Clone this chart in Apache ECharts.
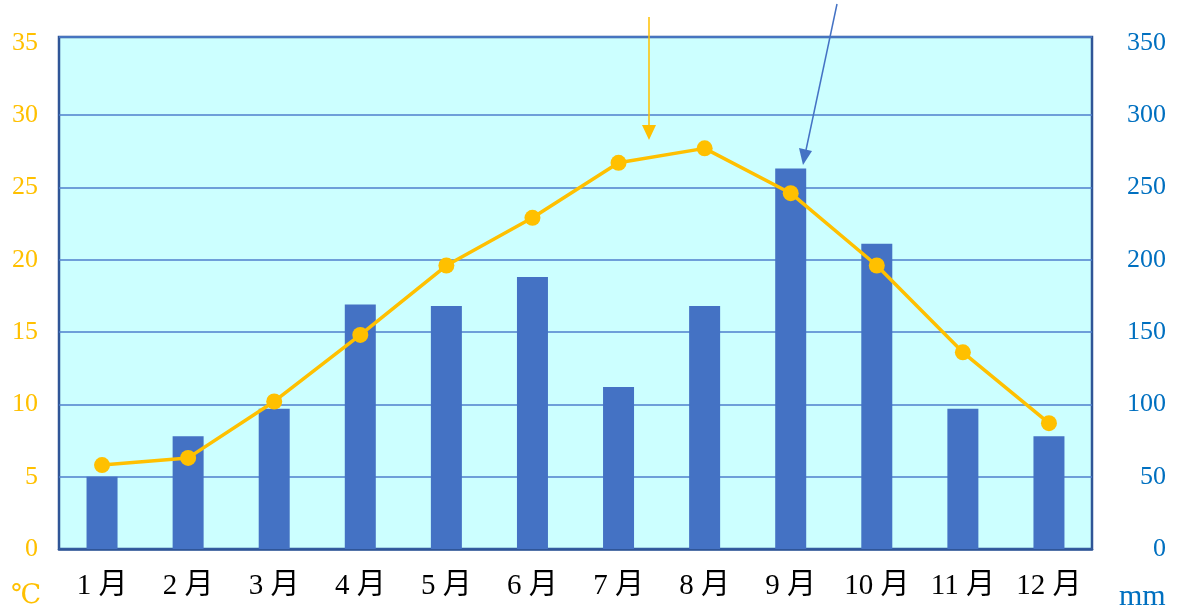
<!DOCTYPE html>
<html>
<head>
<meta charset="utf-8">
<script src="https://cdn.jsdelivr.net/npm/echarts@6/dist/echarts.min.js"></script>
<style>
html,body{margin:0;padding:0;background:#fff;}
#c{width:1178px;height:611px;}
</style>
</head>
<body>
<div id="c"></div>
<script>
const categories = ['1 月','2 月','3 月','4 月','5 月','6 月','7 月','8 月','9 月','10 月','11 月','12 月'];
const precipitation = [50, 78, 97, 169, 168, 188, 112, 168, 263, 211, 97, 78];
const temperature = [5.8, 6.3, 10.2, 14.8, 19.6, 22.9, 26.7, 27.7, 24.6, 19.6, 13.6, 8.7];
const tempTicks = [0, 5, 10, 15, 20, 25, 30, 35];
const rainTicks = [0, 50, 100, 150, 200, 250, 300, 350];

const serif = '"Liberation Serif", "DejaVu Serif", "Noto Sans CJK JP", serif';
const chart = echarts.init(document.getElementById('c'));
const gridL = 59, gridR = 86, gridT = 37, gridB = 62;
const gl = '#4F7FCC';

chart.setOption({
  animation: false,
  grid: {left: gridL, right: gridR, top: gridT, bottom: gridB, show: true,
         backgroundColor: '#CCFFFF', borderColor: '#2F5597', borderWidth: 2.5, z: 0},
  xAxis: {
    type: 'category', data: categories,
    axisLine: {lineStyle: {color: '#2F5597', width: 2.5}},
    axisTick: {inside: true, length: 10, lineStyle: {color: '#5B8BD0', width: 1.2}},
    axisLabel: {color: '#000', fontFamily: serif, fontSize: 29, margin: 23}
  },
  yAxis: [
    {type: 'value', min: 0, max: 35.4, interval: 5,
     axisLine: {show: false}, axisTick: {show: false},
     splitLine: {lineStyle: {color: [gl, gl, gl, gl, gl, gl, gl, 'rgba(0,0,0,0)'], width: 1.5}},
     axisLabel: {color: '#FFC000', fontFamily: serif, fontSize: 26, margin: 21,
                 formatter: v => tempTicks.includes(v) ? String(v) : ''}},
    {type: 'value', min: 0, max: 354, interval: 50,
     axisLine: {show: false}, axisTick: {show: false}, splitLine: {show: false},
     axisLabel: {color: '#0070C0', fontFamily: serif, fontSize: 26, margin: 74, align: 'right',
                 formatter: v => rainTicks.includes(v) ? String(v) : ''}}
  ],
  series: [
    {type: 'bar', yAxisIndex: 1, data: precipitation, barWidth: 31,
     itemStyle: {color: '#4472C4'}, z: 2},
    {type: 'line', yAxisIndex: 0, data: temperature, symbol: 'circle', symbolSize: 16,
     lineStyle: {color: '#FFC000', width: 3.5}, itemStyle: {color: '#FFC000'}, z: 3}
  ],
  graphic: [
    {type: 'text', left: 11, top: 582, style: {text: '℃', fill: '#FFC000', font: '27px ' + serif}},
    {type: 'text', left: 1119, top: 582, style: {text: 'mm', fill: '#0070C0', font: '30px ' + serif}},
    {type: 'line', shape: {x1: 649, y1: 17, x2: 649, y2: 128}, style: {stroke: '#FFC000', lineWidth: 1.5}, z: 10},
    {type: 'polygon', shape: {points: [[642, 125], [656, 125], [649, 140]]}, style: {fill: '#FFC000'}, z: 10},
    {type: 'line', shape: {x1: 837, y1: 4, x2: 806, y2: 150}, style: {stroke: '#4472C4', lineWidth: 1.5}, z: 10},
    {type: 'polygon', shape: {points: [[799, 148], [812, 151], [803, 165]]}, style: {fill: '#4472C4'}, z: 10}
  ]
});
</script>
</body>
</html>
